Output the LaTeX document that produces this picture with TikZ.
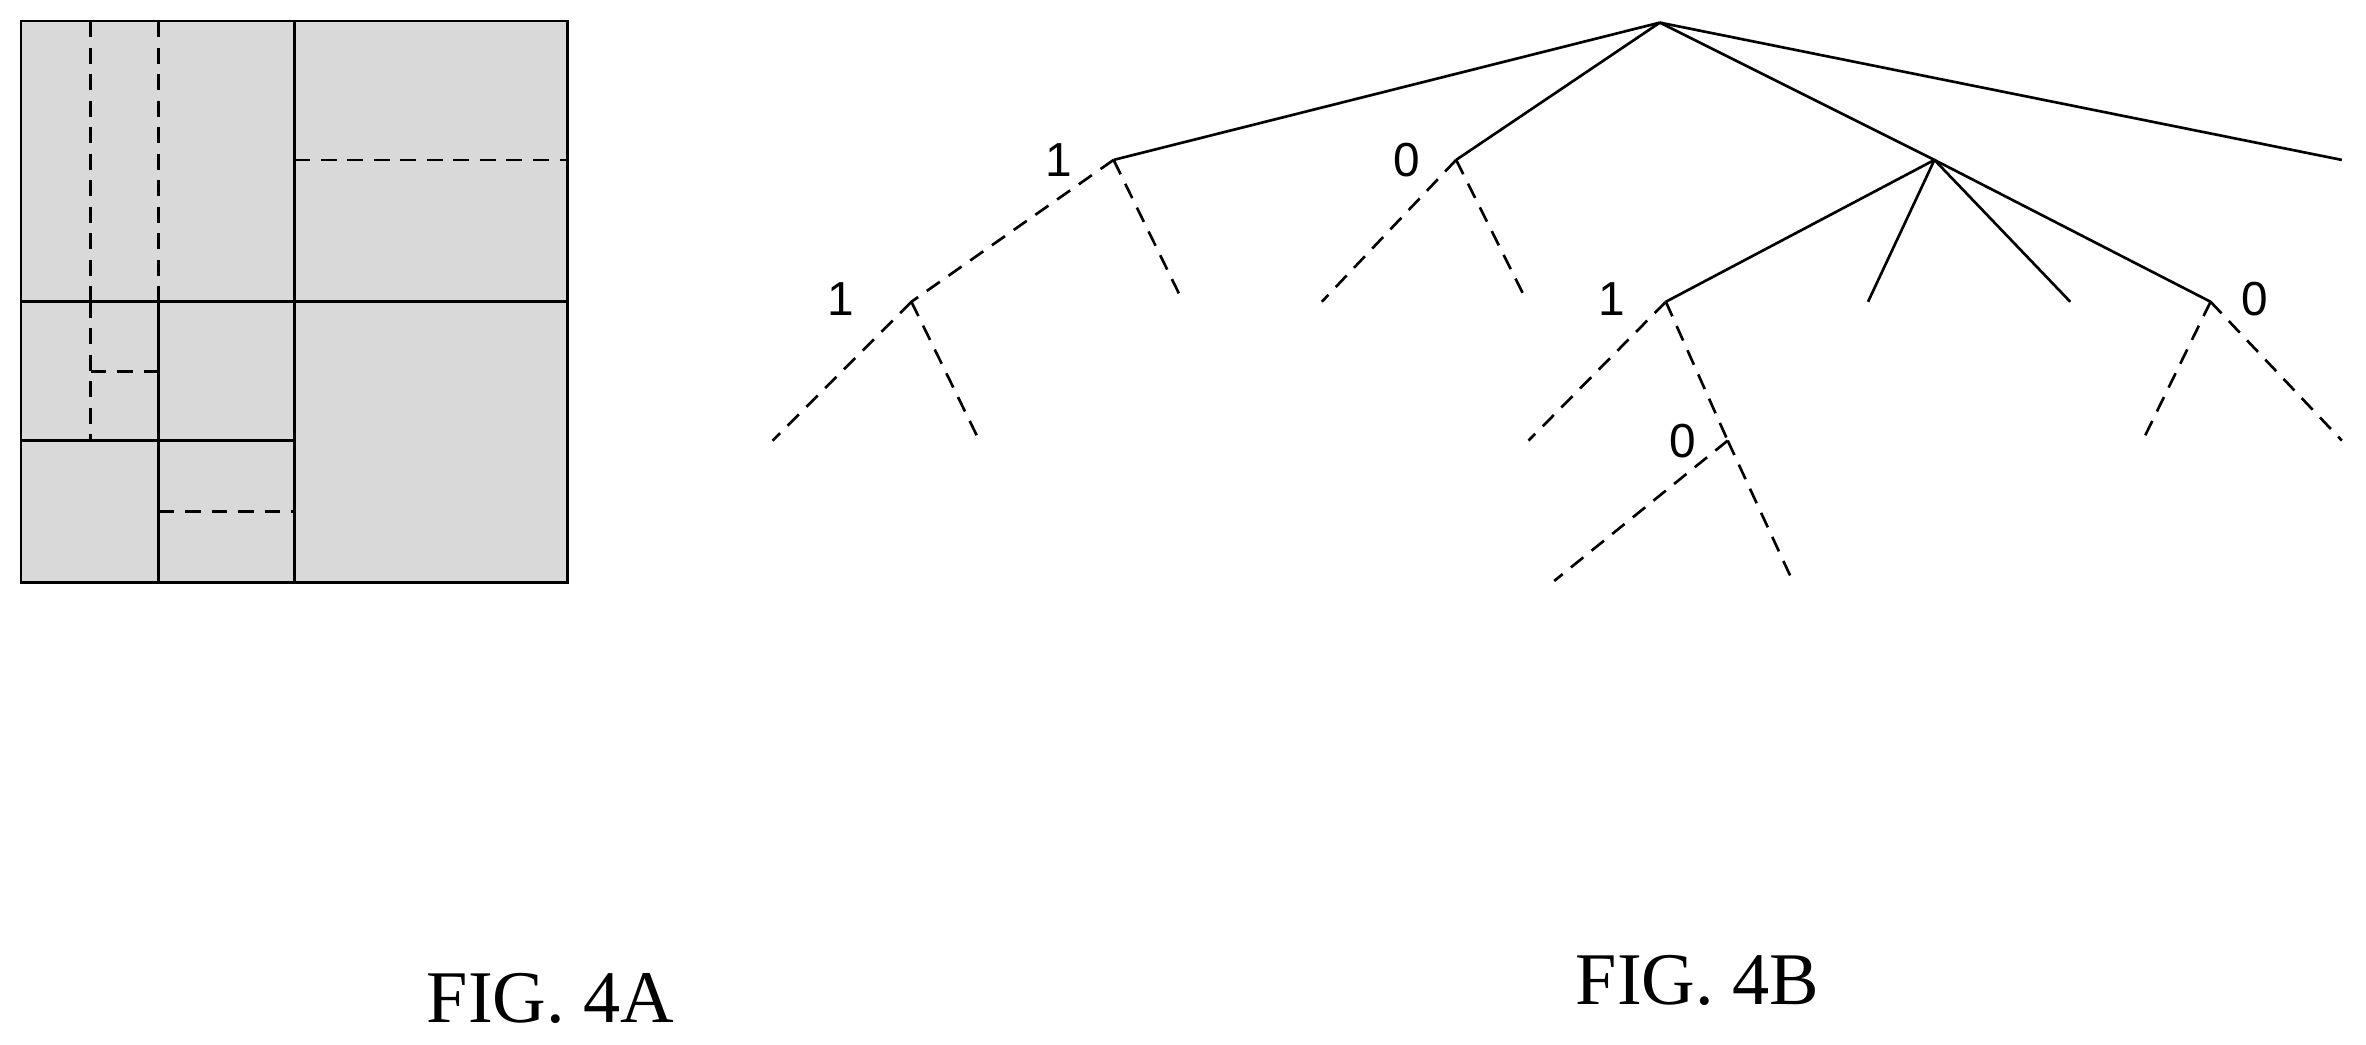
\documentclass[tikz,border=0pt]{standalone}
\usepackage{fontspec}
\setmainfont{Liberation Serif}
\newfontfamily\lab{Liberation Sans}
\begin{document}
\begin{tikzpicture}[x=0.01cm,y=-0.01cm,
  sol/.style={line width=0.5pt},
  dsh/.style={line width=0.5pt,dash pattern=on 3pt off 2pt},
  num/.style={font=\lab\fontsize{9}{10}\selectfont},
  figcap/.style={font=\fontsize{14}{16}\selectfont}]
\useasboundingbox (0,0) rectangle (1568,692);
% FIG 4A
\fill[gray!30] (14,14) rectangle (376,386);
\draw[sol] (14,14) rectangle (376,386);
\draw[sol] (195,14) -- (195,386);
\draw[sol] (14,200) -- (376,200);
\draw[dsh] (60,14) -- (60,200);
\draw[dsh] (105,14) -- (105,200);
\draw[dsh] (195,106) -- (376,106);
\draw[sol] (105,200) -- (105,386);
\draw[sol] (14,292) -- (195,292);
\draw[dsh] (60,200) -- (60,292);
\draw[dsh] (60,246) -- (105,246);
\draw[dsh] (105,339) -- (195,339);
\node[figcap] (ca) at (365,662) {FIG. 4A};
% FIG 4B
\coordinate (r) at (1100,15);
\coordinate (a) at (738,106);
\coordinate (b) at (965,106);
\coordinate (c) at (1282,106);
\coordinate (d) at (1552,106);
\coordinate (a1) at (604,200);
\coordinate (a2) at (784,200);
\coordinate (a11) at (512,292);
\coordinate (a12) at (649,292);
\coordinate (b1) at (876,200);
\coordinate (b2) at (1012,200);
\coordinate (c1) at (1104,200);
\coordinate (c2) at (1238,200);
\coordinate (c3) at (1372,200);
\coordinate (c4) at (1465,200);
\coordinate (c11) at (1013,292);
\coordinate (c12) at (1145,292);
\coordinate (c121) at (1030,385);
\coordinate (c122) at (1188,385);
\coordinate (c41) at (1420,292);
\coordinate (c42) at (1552,292);
\draw[sol] (r) -- (a); \draw[sol] (r) -- (b); \draw[sol] (r) -- (c); \draw[sol] (r) -- (d);
\draw[sol] (c) -- (c1); \draw[sol] (c) -- (c2); \draw[sol] (c) -- (c3); \draw[sol] (c) -- (c4);
\draw[dsh] (a) -- (a1); \draw[dsh] (a) -- (a2);
\draw[dsh] (a1) -- (a11); \draw[dsh] (a1) -- (a12);
\draw[dsh] (b) -- (b1); \draw[dsh] (b) -- (b2);
\draw[dsh] (c1) -- (c11); \draw[dsh] (c1) -- (c12);
\draw[dsh] (c12) -- (c121); \draw[dsh] (c12) -- (c122);
\draw[dsh] (c4) -- (c41); \draw[dsh] (c4) -- (c42);
\node[num] (la) at (702,106) {1};
\node[num] (la1) at (557,198) {1};
\node[num] (lb) at (932,106) {0};
\node[num] (lc1) at (1068,198) {1};
\node[num] (lc12) at (1115,292) {0};
\node[num] (lc4) at (1494,198) {0};
\node[figcap] (cb) at (1125,650) {FIG. 4B};
\end{tikzpicture}
\end{document}
